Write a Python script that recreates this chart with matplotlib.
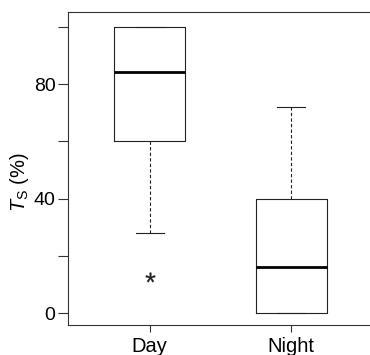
import matplotlib
matplotlib.use('Agg')
import matplotlib.pyplot as plt

# Box summaries
groups = ['Day', 'Night']
whisker_low = [28, 0]
q1 = [60, 0]
median = [84.3, 16]
q3 = [100, 40]
whisker_high = [100, 72]
outliers = [[12.5], []]

y_ticks = [0, 20, 40, 60, 80, 100]
y_labels = ['0', '', '40', '', '80', '']

plt.rcParams['font.family'] = ['Liberation Sans', 'DejaVu Sans']
plt.rcParams['mathtext.fontset'] = 'custom'
plt.rcParams['mathtext.it'] = 'Liberation Sans:italic'
plt.rcParams['mathtext.rm'] = 'Liberation Sans'

fig = plt.figure(figsize=(3.7, 3.55), dpi=100)
ax = fig.add_axes([68 / 370, 30 / 355, 304 / 370, 313 / 355])

stats = []
for i in range(len(groups)):
    stats.append({'label': groups[i], 'whislo': whisker_low[i], 'q1': q1[i],
                  'med': median[i], 'q3': q3[i], 'whishi': whisker_high[i],
                  'fliers': outliers[i]})

ax.bxp(stats, positions=[1, 2], widths=0.5, showfliers=True,
       boxprops=dict(color='#222222', linewidth=0.8),
       medianprops=dict(color='black', linewidth=2.0),
       whiskerprops=dict(color='#222222', linewidth=0.8, linestyle=(0, (3, 2))),
       capprops=dict(color='#222222', linewidth=0.8),
       capwidths=0.2,
       flierprops=dict(marker='$*$', markersize=7, markerfacecolor='#222222',
                       markeredgecolor='#222222', markeredgewidth=0.2))

ax.set_xlim(0.423, 2.57)
ax.set_ylim(-4.1, 105.2)
ax.set_yticks(y_ticks)
ax.set_yticklabels(y_labels)
ax.set_xticks([1, 2])
ax.set_xticklabels(groups)
ax.tick_params(axis='y', length=7, width=0.8, pad=2, labelsize=14, color='#333333')
ax.tick_params(axis='x', length=5, width=0.8, pad=4, labelsize=14.5, color='#333333')
for s in ax.spines.values():
    s.set_color('#333333')
    s.set_linewidth(0.8)
ax.spines['right'].set_visible(False)

ax.set_ylabel('$T_\\mathrm{S}$ (%)', fontsize=14.5)
ax.yaxis.set_label_coords(-0.122, 0.455)

fig.savefig('out.png', dpi=100)
